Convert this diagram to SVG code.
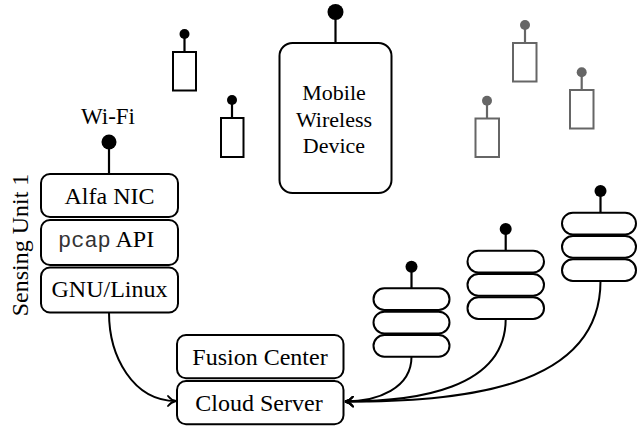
<svg xmlns="http://www.w3.org/2000/svg" width="637" height="430" viewBox="0 0 637 430">
<defs>
<style>
.box{fill:#fff;stroke:#000;stroke-width:2}
.dev{fill:#fff;stroke:#000;stroke-width:2}
.gdev{fill:#fff;stroke:#666;stroke-width:2}
.ant{stroke:#000;stroke-width:2.2}
.gant{stroke:#666;stroke-width:2.2}
.t{font-family:"Liberation Serif","Times New Roman",serif;font-size:24px;fill:#000;text-anchor:middle}
.m{font-family:"Liberation Mono","Courier New",monospace;font-size:22px;fill:#333}
.wire{fill:none;stroke:#000;stroke-width:2}
</style>
<marker id="arr" viewBox="0 0 10 12" refX="9" refY="6" markerWidth="10" markerHeight="12" markerUnits="userSpaceOnUse" orient="auto">
<path d="M1,1 Q4,5 9,6 Q4,7 1,11" fill="none" stroke="#000" stroke-width="1.8" stroke-linecap="round"/>
</marker>
</defs>
<rect width="637" height="430" fill="#fff"/>

<g id="sensing-unit-1">
<text class="t" x="108" y="124" style="font-size:23px">Wi-Fi</text>
<line class="ant" x1="109" y1="142" x2="109" y2="174"/>
<circle cx="109" cy="142" r="7.5" fill="#000"/>
<text class="t" transform="translate(28,245) rotate(-90)">Sensing Unit 1</text>
<g id="alfa-nic">
<rect class="box" x="41" y="174" width="137" height="43" rx="9"/>
<text class="t" x="109.5" y="204">Alfa NIC</text>
</g>
<g id="pcap-api">
<rect class="box" x="41" y="220" width="137" height="45" rx="9"/>
<text x="58" y="247"><tspan class="m">pcap</tspan><tspan style="font-family:'Liberation Serif','Times New Roman',serif;font-size:24px"> API</tspan></text>
</g>
<g id="gnu-linux">
<rect class="box" x="41" y="267.5" width="137" height="45" rx="9"/>
<text class="t" x="109.5" y="297">GNU/Linux</text>
</g>
</g>

<g id="mobile-device">
<line class="ant" x1="335.5" y1="12" x2="335.5" y2="43"/>
<circle cx="335.5" cy="12" r="8" fill="#000"/>
<rect class="box" x="279.5" y="43" width="112" height="150" rx="13"/>
<text class="t" x="334" y="100" style="font-size:22px">Mobile</text>
<text class="t" x="334" y="126.5" style="font-size:22px">Wireless</text>
<text class="t" x="334" y="153" style="font-size:22px">Device</text>
</g>

<g id="device-black-1">
<line class="ant" x1="184.5" y1="34" x2="184.5" y2="52"/>
<circle cx="184.5" cy="34" r="5" fill="#000"/>
<rect class="dev" x="173" y="52" width="23" height="38.5"/>
</g>
<g id="device-black-2">
<line class="ant" x1="232" y1="100" x2="232" y2="118"/>
<circle cx="232" cy="100" r="5" fill="#000"/>
<rect class="dev" x="221" y="118" width="22.5" height="39"/>
</g>

<g id="device-gray-1">
<line class="gant" x1="525" y1="25" x2="525" y2="43"/>
<circle cx="525" cy="25" r="5" fill="#666"/>
<rect class="gdev" x="513" y="43" width="23.5" height="38.5"/>
</g>
<g id="device-gray-2">
<line class="gant" x1="581.7" y1="72.3" x2="581.7" y2="90"/>
<circle cx="581.7" cy="72.3" r="5" fill="#666"/>
<rect class="gdev" x="570" y="90" width="23.5" height="38.5"/>
</g>
<g id="device-gray-3">
<line class="gant" x1="487" y1="100.7" x2="487" y2="118.5"/>
<circle cx="487" cy="100.7" r="5" fill="#666"/>
<rect class="gdev" x="475.5" y="118.5" width="23.5" height="38.5"/>
</g>

<g id="sensing-unit-2">
<line class="ant" x1="411.5" y1="266.7" x2="411.5" y2="288.3"/>
<circle cx="411.5" cy="266.7" r="6" fill="#000"/>
<rect class="box" x="373.5" y="288.3" width="76" height="21.7" rx="10.85"/>
<rect class="box" x="373.5" y="311.7" width="76" height="21.7" rx="10.85"/>
<rect class="box" x="373.5" y="335" width="76" height="21.7" rx="10.85"/>
</g>
<g id="sensing-unit-3">
<line class="ant" x1="505.7" y1="229" x2="505.7" y2="250.7"/>
<circle cx="505.7" cy="229" r="6" fill="#000"/>
<rect class="box" x="467.5" y="250.7" width="76.5" height="21.7" rx="10.85"/>
<rect class="box" x="467.5" y="274" width="76.5" height="21.7" rx="10.85"/>
<rect class="box" x="467.5" y="297.3" width="76.5" height="21.7" rx="10.85"/>
</g>
<g id="sensing-unit-4">
<line class="ant" x1="600.5" y1="191" x2="600.5" y2="212.7"/>
<circle cx="600.5" cy="191" r="6" fill="#000"/>
<rect class="box" x="562" y="212.7" width="74" height="21.7" rx="10.85"/>
<rect class="box" x="562" y="236" width="74" height="21.7" rx="10.85"/>
<rect class="box" x="562" y="259.3" width="74" height="21.7" rx="10.85"/>
</g>

<g id="fusion-center">
<rect class="box" x="177" y="335" width="166.5" height="43.3" rx="9"/>
<text class="t" x="260" y="365">Fusion Center</text>
</g>
<g id="cloud-server">
<rect class="box" x="177" y="381" width="166.5" height="43.3" rx="9"/>
<text class="t" x="259" y="411">Cloud Server</text>
</g>

<g id="connectors">
<path class="wire" d="M109,312.5 C109,356.5 133,401 176,401" marker-end="url(#arr)"/>
<path class="wire" d="M411.5,356.7 C411.5,388 378,401.5 345,401.5" marker-end="url(#arr)"/>
<path class="wire" d="M505.7,319 C505.7,389 416,401.5 345,401.5" marker-end="url(#arr)"/>
<path class="wire" d="M600.5,281 C600.5,391 456,401.5 345,401.5" marker-end="url(#arr)"/>
</g>
</svg>
